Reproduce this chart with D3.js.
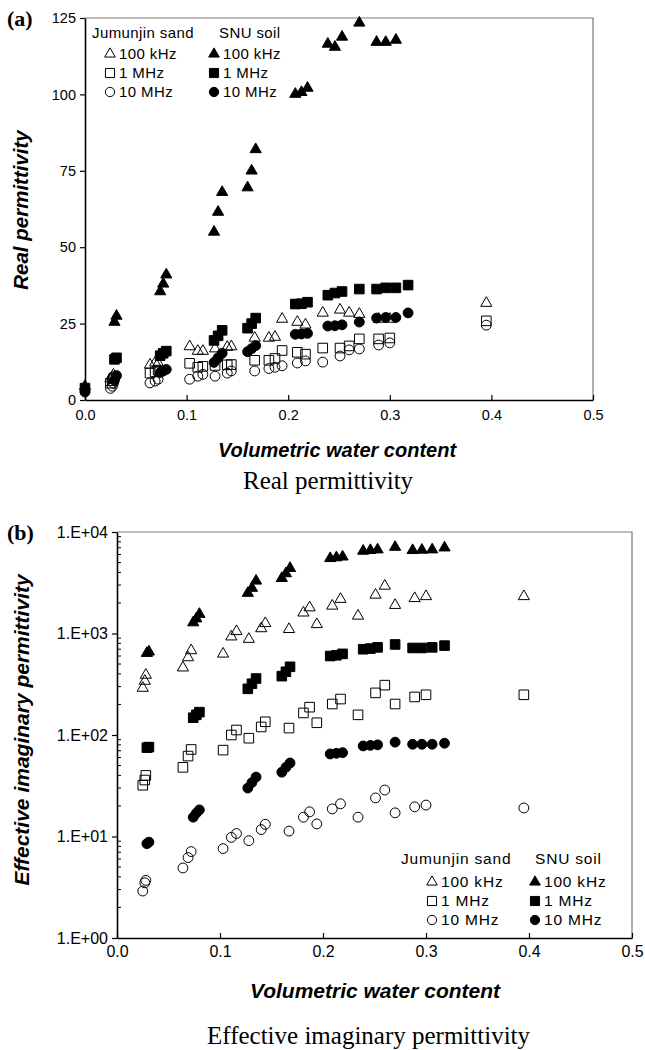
<!DOCTYPE html>
<html>
<head>
<meta charset="utf-8">
<script src="https://cdn.jsdelivr.net/npm/d3@7/dist/d3.min.js"></script>
<style>
  body { margin: 0; background: #fff; }
  svg { font-family: "Liberation Sans", Arial, sans-serif; }
</style>
</head>
<body>
<div id="chart"></div>
<script>
// Contenido volumétrico de agua de cada muestra
const xJumunjin = [0.025, 0.027, 0.028, 0.064, 0.069, 0.072, 0.103, 0.111, 0.116, 0.128, 0.140, 0.144, 0.167,
  0.181, 0.187, 0.194, 0.209, 0.217, 0.234, 0.251, 0.260, 0.270, 0.289, 0.300, 0.395];
const xSNU = [0.0, 0.029, 0.031, 0.074, 0.077, 0.080, 0.127, 0.131, 0.135, 0.160, 0.164, 0.168, 0.207, 0.213,
  0.219, 0.239, 0.246, 0.253, 0.270, 0.287, 0.296, 0.306, 0.318];

// (a) permitividad real
const realJum100k = [7.0, 7.6, 8.2, 11.5, 12.2, 12.0, 17.5, 16.0, 16.0, 16.8, 17.3, 17.5, 20.3, 20.3, 20.6,
  26.5, 25.5, 24.6, 28.5, 29.5, 28.5, 28.1, 26.5, 26.5, 31.7];
const realJum1M = [5.5, 6.3, 7.0, 8.8, 9.2, 9.8, 12.0, 10.7, 11.0, 11.3, 11.5, 11.6, 13.0, 13.0, 13.6, 16.2,
  15.6, 15.0, 17.0, 17.0, 17.7, 20.0, 20.0, 20.3, 25.9];
const realJum10M = [3.8, 4.5, 5.5, 5.6, 6.2, 6.8, 6.8, 7.8, 8.4, 7.8, 8.8, 9.5, 9.5, 10.3, 10.7, 11.2, 12.1,
  12.8, 12.4, 14.4, 16.4, 16.7, 18.0, 18.7, 24.5];
const realSNU100k = [4.5, 25.5, 27.5, 35.5, 38.0, 41.0, 55.0, 61.5, 68.0, 69.5, 75.0, 82.0, 100.1, 100.7, 102.1,
  116.5, 115.5, 118.8, 123.4, 117.1, 117.1, 117.8, null];
const realSNU1M = [3.9, 13.3, 13.8, 14.5, 15.3, 16.0, 19.5, 21.0, 22.8, 23.5, 25.0, 26.8, 31.4, 31.5, 32.0,
  34.3, 35.0, 35.5, 36.3, 36.3, 36.7, 36.7, 37.6];
const realSNU10M = [2.6, 6.5, 8.0, 9.0, 9.5, 10.0, 12.3, 13.8, 15.3, 15.8, 16.8, 17.8, 21.5, 21.6, 21.8, 24.2,
  24.3, 24.6, 25.5, 26.8, 27.0, 27.0, 28.5];

// (b) permitividad imaginaria efectiva
const imagJum100k = [290, 340, 390, 460, 580, 680, 630, 930, 1050, 880, 1120, 1260, 1100, 1600, 1800, 1230,
  1870, 2180, 1490, 2400, 2940, 1900, 2220, 2320, 2320];
const imagJum1M = [32, 36, 40, 48, 62, 72, 71, 100, 112, 93, 120, 135, 117, 165, 188, 132, 202, 226, 158, 260,
  310, 202, 237, 249, 249];
const imagJum10M = [2.9, 3.5, 3.7, 4.9, 6.2, 7.1, 7.6, 9.8, 10.7, 9.1, 11.7, 13.2, 11.3, 15.5, 17.5, 13.3, 18.7,
  21.0, 15.5, 24.0, 28.7, 17.1, 19.6, 20.4, 19.1];
const imagSNU100k = [null, 640, 660, 1280, 1400, 1550, 2500, 2800, 3300, 3500, 3900, 4400, 5500, 5600, 5700,
  6500, 6600, 6700, 7100, 6600, 6650, 6700, 7000];
const imagSNU1M = [null, 75, 76, 148, 158, 168, 285, 320, 360, 380, 420, 470, 600, 610, 630, 700, 710, 730, 780,
  720, 720, 730, 760];
const imagSNU10M = [null, 8.5, 8.8, 15.5, 17, 18.3, 30, 34, 38.5, 43, 48, 53, 65, 66, 67, 78, 79, 80, 85, 81,
  81, 81, 83];

const materials = ["Jumunjin sand", "SNU soil"];
const freqLabels = ["100 kHz", "1 MHz", "10 MHz"];
const xTicks = [0, 0.1, 0.2, 0.3, 0.4, 0.5];
const realTicks = [0, 25, 50, 75, 100, 125];
const imagTicks = [1, 10, 100, 1000, 10000];

const shapes = [d3.symbolTriangle, d3.symbolSquare, d3.symbolCircle];
const shapeSize = [54, 92, 76];

const series = [
  { mat: 0, f: 0, x: xJumunjin, real: realJum100k, imag: imagJum100k },
  { mat: 0, f: 1, x: xJumunjin, real: realJum1M, imag: imagJum1M },
  { mat: 0, f: 2, x: xJumunjin, real: realJum10M, imag: imagJum10M },
  { mat: 1, f: 0, x: xSNU, real: realSNU100k, imag: imagSNU100k },
  { mat: 1, f: 1, x: xSNU, real: realSNU1M, imag: imagSNU1M },
  { mat: 1, f: 2, x: xSNU, real: realSNU10M, imag: imagSNU10M }
];

const width = 645;
const height = 1050;
const serif = '"Liberation Serif", "Times New Roman", serif';

const svg = d3.select("#chart")
  .append("svg")
  .attr("width", width)
  .attr("height", height);

function symbolPath(f, scale) {
  return d3.symbol().type(shapes[f]).size(shapeSize[f] * (scale || 1))();
}

function styleSymbol(sel, mat) {
  sel.attr("fill", mat === 1 ? "#000" : "none")
    .attr("stroke", "#000")
    .attr("stroke-width", 1);
}

// Dibuja un panel completo
function drawPanel(p) {
  const g = svg.append("g");

  // marco gris arriba y a la derecha
  g.append("path")
    .attr("d", `M${p.x.range()[0]},${p.y.range()[1]}H${p.x.range()[1]}V${p.y.range()[0]}`)
    .attr("fill", "none")
    .attr("stroke", "#7a7a7a")
    .attr("stroke-width", 1.2);

  // puntos
  series.forEach(function(s) {
    const vals = s[p.key];
    const pts = s.x.map((x, i) => [x, vals[i]]).filter(d => d[1] != null);
    g.append("g")
      .selectAll("path")
      .data(pts)
      .enter().append("path")
      .attr("transform", d => `translate(${p.x(d[0])},${p.y(d[1])})`)
      .attr("d", symbolPath(s.f))
      .call(styleSymbol, s.mat);
  });

  // eje x, marcas hacia dentro
  const xAxis = g.append("g")
    .attr("transform", `translate(0,${p.y.range()[0]})`)
    .call(d3.axisBottom(p.x).tickValues(xTicks).tickSize(-5).tickSizeOuter(0)
      .tickPadding(p.xPad).tickFormat(d3.format(".1f")));

  // eje y
  const yAxis = g.append("g")
    .attr("transform", `translate(${p.x.range()[0]},0)`)
    .call(d3.axisLeft(p.y).tickValues(p.yTicks).tickSize(5).tickSizeOuter(0)
      .tickPadding(4).tickFormat(p.yFormat));

  [xAxis, yAxis].forEach(function(a) {
    a.select(".domain").attr("stroke", "#000").attr("stroke-width", 1.6);
    a.selectAll(".tick line").attr("stroke", "#000").attr("stroke-width", 1.2);
    a.selectAll("text").attr("font-size", p.tickFont).attr("fill", "#000")
      .attr("font-family", '"Liberation Sans", Arial, sans-serif');
  });

  // marcas menores del eje logarítmico
  if (p.minor) {
    const minorVals = [];
    p.yTicks.slice(0, -1).forEach(function(t) {
      for (let k = 2; k <= 9; k++) minorVals.push(t * k);
    });
    g.append("g")
      .selectAll("line")
      .data(minorVals)
      .enter().append("line")
      .attr("x1", p.x.range()[0])
      .attr("x2", p.x.range()[0] + 4)
      .attr("y1", d => p.y(d))
      .attr("y2", d => p.y(d))
      .attr("stroke", "#000")
      .attr("stroke-width", 1);
  }

  // títulos de ejes
  g.append("text")
    .attr("x", p.xTitle[0])
    .attr("y", p.xTitle[1])
    .attr("text-anchor", "middle")
    .attr("font-size", p.xTitle[2])
    .attr("font-weight", "bold")
    .attr("font-style", "italic")
    .text("Volumetric water content");

  g.append("text")
    .attr("transform", `translate(${p.yTitle[0]},${p.yTitle[1]}) rotate(-90)`)
    .attr("text-anchor", "middle")
    .attr("font-size", p.yTitle[2])
    .attr("font-weight", "bold")
    .attr("font-style", "italic")
    .text(p.yLabel);

  // etiqueta del panel y pie
  g.append("text")
    .attr("x", 7)
    .attr("y", p.tag[1])
    .attr("font-family", serif)
    .attr("font-size", 22)
    .attr("font-weight", "bold")
    .text(p.tag[0]);

  g.append("text")
    .attr("x", p.caption[0])
    .attr("y", p.caption[1])
    .attr("font-family", serif)
    .attr("font-size", p.caption[2])
    .text(p.captionText);

  // leyenda
  const lg = g.append("g")
    .attr("font-size", p.legend.font)
    .attr("letter-spacing", p.legend.spacing);
  materials.forEach(function(m, mi) {
    lg.append("text")
      .attr("x", p.legend.head[mi])
      .attr("y", p.legend.y0)
      .text(m);
    freqLabels.forEach(function(fl, fi) {
      const yy = p.legend.y0 + p.legend.dy[0] + fi * p.legend.dy[1];
      lg.append("path")
        .attr("transform", `translate(${p.legend.sym[mi]},${yy - 5})`)
        .attr("d", symbolPath(fi, 0.9))
        .call(styleSymbol, mi);
      lg.append("text")
        .attr("x", p.legend.sym[mi] + 9)
        .attr("y", yy)
        .text(fl);
    });
  });
}

// Panel (a)
drawPanel({
  key: "real",
  x: d3.scaleLinear().domain([0, 0.5]).range([85, 593]),
  y: d3.scaleLinear().domain([0, 125]).range([400, 18]),
  yTicks: realTicks,
  yFormat: d3.format("d"),
  minor: false,
  tickFont: 14.5,
  xPad: 10,
  xTitle: [337, 457, 20],
  yTitle: [28, 210, 20.5],
  yLabel: "Real permittivity",
  tag: ["(a)", 26],
  caption: [243, 489, 25],
  captionText: "Real permittivity",
  legend: { head: [92, 219], sym: [110, 214], y0: 38, dy: [21, 19], font: 15, spacing: 0.4 }
});

// Panel (b)
drawPanel({
  key: "imag",
  x: d3.scaleLinear().domain([0, 0.5]).range([117, 632]),
  y: d3.scaleLog().domain([1, 10000]).range([938, 532]),
  yTicks: imagTicks,
  yFormat: d => "1.E+0" + Math.round(Math.log10(d)),
  minor: true,
  tickFont: 16,
  xPad: 8,
  xTitle: [375, 998, 21],
  yTitle: [29, 730, 21],
  yLabel: "Effective imaginary permittivity",
  tag: ["(b)", 540],
  caption: [207, 1044, 25],
  captionText: "Effective imaginary permittivity",
  legend: { head: [401, 535], sym: [432, 535], y0: 864, dy: [23, 19], font: 15.5, spacing: 0.8 }
});
</script>
</body>
</html>
